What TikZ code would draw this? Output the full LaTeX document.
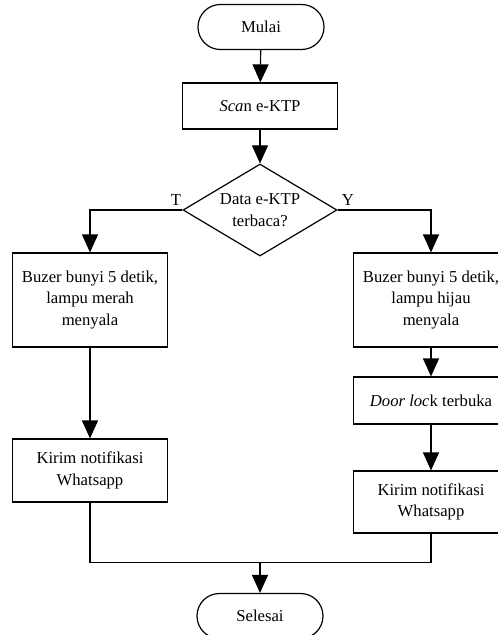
\documentclass[tikz,border=0pt]{standalone}
\usepackage{fontspec}
\setmainfont{Liberation Serif}
\usetikzlibrary{arrows.meta,shapes.geometric}
\begin{document}
\begin{tikzpicture}[x=0.75pt,y=-0.75pt,
  every node/.style={font=\fontsize{12.5}{16.2}\selectfont},
  line/.style={line width=0.9pt},
  arr/.style={line, -{Triangle[length=13.5pt,width=12pt]}},
  box/.style={draw, line width=0.9pt, minimum width=116.25pt, align=center, inner sep=0pt},
  term/.style={draw, line width=0.9pt, rounded corners=16.8pt, minimum width=94.5pt, minimum height=33.75pt, inner sep=0pt},
  dec/.style={draw, line width=0.9pt, shape=diamond, aspect=1.67, minimum width=115.5pt, minimum height=69pt, inner sep=0pt, align=center}
]
\path[use as bounding box, clip] (0,0) rectangle (498,635);
\node[term] (mulai) at (261,27) {Mulai};
\node[box, minimum height=34.5pt] (scan) at (260,106) {\textit{Sca}n e-KTP};
\node[dec] (dec) at (260,210) {Data e-KTP\\terbaca?};
\node[box, minimum height=70.5pt] (l1) at (90,300) {Buzer bunyi 5 detik,\\lampu merah\\menyala};
\node[box, minimum height=47.25pt] (l2) at (90,470.5) {Kirim notifikasi\\Whatsapp};
\node[box, minimum height=70.5pt] (r1) at (431,300) {Buzer bunyi 5 detik,\\lampu hijau\\menyala};
\node[box, minimum height=35.25pt] (r2) at (431,400.5) {\textit{Door loc}k terbuka};
\node[box, minimum height=46.5pt] (r3) at (431,502) {Kirim notifikasi\\Whatsapp};
\node[term] (selesai) at (260,616) {Selesai};
\coordinate (j) at (260,562.5);
\node[anchor=base] (tlab) at (176,205) {T};
\node[anchor=base] (ylab) at (348,205) {Y};
\draw[arr] (mulai) -- (scan);
\draw[arr] (scan) -- (dec);
\draw[arr] (dec.west) -| (l1.north);
\draw[arr] (dec.east) -| (r1.north);
\draw[arr] (l1) -- (l2);
\draw[arr] (r1) -- (r2);
\draw[arr] (r2) -- (r3);
\draw[line] (l2.south) |- (j);
\draw[line] (r3.south) |- (j);
\draw[arr] (j) -- (selesai);
\end{tikzpicture}
\end{document}
